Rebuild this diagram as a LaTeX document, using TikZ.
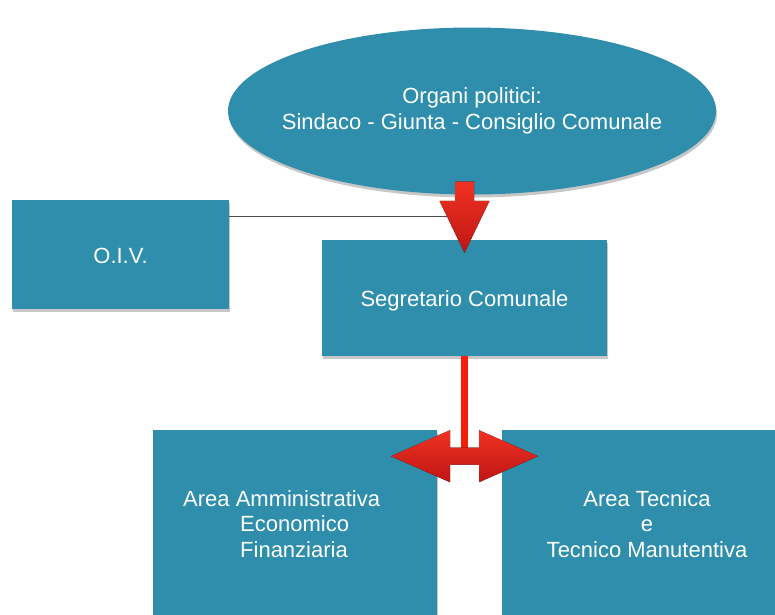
\documentclass[tikz,border=0pt]{standalone}
\usepackage{fontspec}
\setmainfont{Liberation Sans}
\usetikzlibrary{shapes.geometric,shadows,calc}
\definecolor{boxteal}{RGB}{46,142,172}
\definecolor{arrtop}{RGB}{240,50,35}
\definecolor{arrbot}{RGB}{190,22,20}
\definecolor{redline}{RGB}{245,30,10}
\tikzset{
  tealbox/.style={rectangle, fill=boxteal, draw=none, inner sep=0pt,
    drop shadow={shadow xshift=1pt, shadow yshift=-3pt, opacity=0.22, fill=black}},
  wtext/.style={text=white, font=\fontsize{22}{25.5}\selectfont, inner sep=0pt},
  redarrow/.style={top color=arrtop, bottom color=arrbot, draw=none},
  thinline/.style={line width=1pt, black!70},
}
\begin{document}
\begin{tikzpicture}[x=1pt,y=-1pt]
\useasboundingbox (0,0) rectangle (775,614);
\clip (0,0) rectangle (775,614);
\fill[white] (0,0) rectangle (775,614);
% nodes
\node[tealbox, ellipse, minimum width=488pt, minimum height=167pt] (pol) at (472,111) {};
\node[wtext, align=center] (polt) at (472,111)
  {Organi politici:\\Sindaco - Giunta - Consiglio Comunale};
\node[tealbox, minimum width=217pt, minimum height=109pt] (oiv) at (120.5,254.5) {};
\node[wtext] (oivt) at (120.5,256) {O.I.V.};
\node[tealbox, minimum width=285pt, minimum height=116pt] (seg) at (464.5,298) {};
\node[wtext] (segt) at (464.5,301) {Segretario Comunale};
\node[tealbox, minimum width=284pt, minimum height=210pt] (la) at (295,535) {};
\node[tealbox, minimum width=292pt, minimum height=210pt] (ra) at (648,535) {};
\node[wtext, align=left, anchor=west] (lat) at (183,524)
  {Area Amministrativa\\\hspace*{57pt}Economico\\\hspace*{57pt}Finanziaria};
\node[wtext, align=center] (rat) at (647,524)
  {Area Tecnica\\e\\Tecnico Manutentiva};
% connectors
\coordinate (dtip) at ($(seg.north)+(0,13)$);
\coordinate (dtop) at ($(dtip |- pol.south)+(0,-13)$);
\coordinate (j) at ($(seg.north)+(0,-23)$);
\draw[thinline] (oiv.east |- j) -- (j);
\fill[redarrow] ($(dtop)+(-9.5,0)$) -- ($(dtop)+(9.5,0)$) -- ($(dtip)+(9.5,-52)$) -- ($(dtip)+(25,-52)$)
  -- (dtip) -- ($(dtip)+(-25,-52)$) -- ($(dtip)+(-9.5,-52)$) -- cycle;
\coordinate (hc) at ($(seg.south)+(0,100)$);
\draw[redline, line width=7.5pt] (seg.south) -- ($(hc)+(0,-8)$);
\fill[redarrow] ($(hc)+(-73.5,0)$) -- ($(hc)+(-14.5,-26)$) -- ($(hc)+(-14.5,-8.5)$) -- ($(hc)+(14.5,-8.5)$)
  -- ($(hc)+(14.5,-26)$) -- ($(hc)+(73.5,0)$) -- ($(hc)+(14.5,26)$) -- ($(hc)+(14.5,8.5)$)
  -- ($(hc)+(-14.5,8.5)$) -- ($(hc)+(-14.5,26)$) -- cycle;
\end{tikzpicture}
\end{document}
